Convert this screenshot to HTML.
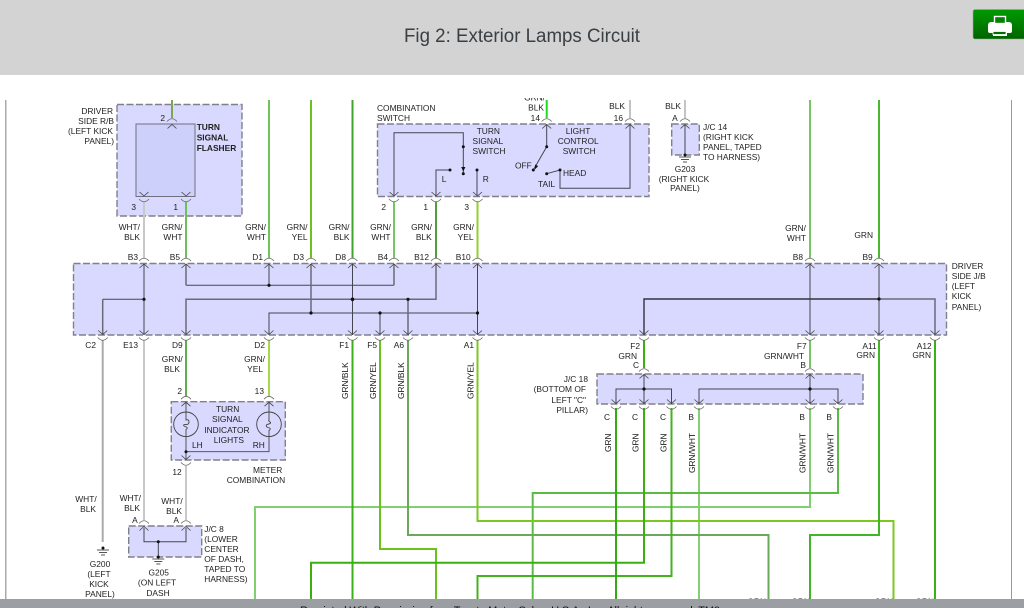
<!DOCTYPE html>
<html><head><meta charset="utf-8"><title>Fig 2: Exterior Lamps Circuit</title>
<style>
html,body{margin:0;padding:0;background:#fff;width:1024px;height:608px;overflow:hidden}
svg{display:block;font-family:"Liberation Sans",Arial,sans-serif}
.l text,text.l{font-size:8.4px;fill:#222}
.e text{text-anchor:end}
.c text{text-anchor:middle}
.box{fill:#d9d9ff;stroke:#808088;stroke-width:1.4;stroke-dasharray:7 2.5}
.w{fill:none;stroke-width:2}
.in{fill:none;stroke:#45454f;stroke-width:1}
.in2{fill:none;stroke:#6a6a78;stroke-width:1.5}
.cn{fill:none;stroke:#666;stroke-width:.8}
.d{fill:#111}
</style></head><body>
<svg width="1024" height="608" viewBox="0 0 1024 608" xmlns="http://www.w3.org/2000/svg">
<defs>
<g id="t"><path class="cn" d="M-5-2.5Q0-8 5-2.5"/><path class="cn" style="stroke:#444" d="M-4.5 4.5L0 .5L4.5 4.5"/></g>
<g id="b"><path class="cn" d="M-5 2.5Q0 8 5 2.5"/><path class="cn" style="stroke:#444" d="M-4.5-4.5L0-.5L4.5-4.5"/></g>
<g id="gnd"><path fill="none" stroke="#555" stroke-width=".9" d="M-6 2H6M-4 4.5H4M-2 7H2"/><circle class="d" r="1.5"/></g>
<linearGradient id="gb" x1="0" y1="0" x2="0" y2="1"><stop offset="0" stop-color="#009a00"/><stop offset="1" stop-color="#006400"/></linearGradient>
</defs>

<!-- boxes -->
<rect class="box" x="117" y="104.5" width="125" height="111.5"/>
<rect x="136" y="124" width="59" height="72.5" fill="#ccd0fb" stroke="#70707c" stroke-width="1"/>
<rect class="box" x="377.5" y="124" width="271.5" height="72.5"/>
<rect class="box" x="671.7" y="124" width="27.6" height="31"/>
<rect class="box" x="73.5" y="263.5" width="873" height="71.5"/>
<rect class="box" x="171.3" y="401.7" width="114" height="58.3"/>
<rect class="box" x="597" y="374" width="266" height="30"/>
<rect class="box" x="128.7" y="526" width="73" height="31"/>

<!-- upper wires -->
<g class="w">
<path stroke="#7aa850" d="M172 100V118"/>
<path stroke="#6fc45a" d="M269 100V258"/>
<path stroke="#6cc020" d="M311 100V258"/>
<path stroke="#3fa52a" d="M352.5 100V258"/>
<path stroke="#1fdc1f" d="M546.7 100V118"/>
<path stroke="#c4c4c4" d="M630 100V118M685 100V118"/>
<path stroke="#74c860" d="M810 100V258"/>
<path stroke="#49b82e" d="M879 100V258"/>
<path stroke="#c8c8c8" d="M144 202V258"/>
<path stroke="#6cc05a" d="M186 202V258"/>
<path stroke="#74c860" d="M394 202V258"/>
<path stroke="#4f9f3c" d="M436 202V258"/>
<path stroke="#92d02c" d="M477.5 202V258"/>
</g>

<!-- lower wires -->
<g class="w">
<path stroke="#aaa" d="M102.7 340V542"/>
<path stroke="#c8c8c8" d="M144 340V520M186 466V520"/>
<path stroke="#5cb04c" d="M186 340V396"/>
<path stroke="#a6d84a" d="M269 340V396"/>
<path stroke="#84cf74" d="M699 408V599"/>
<path stroke="#80cf70" d="M810 408V507H255V599"/>
<path stroke="#5bbb44" d="M838 408V493H532.7V599"/>
<path stroke="#6cc020" d="M380 340V549H436V599"/>
<path stroke="#6aa85c" d="M408 340V535H768.5V599"/>
<path stroke="#7cc820" d="M477.5 340V521H893.5V599"/>
<path stroke="#3cb01a" d="M352.5 340V599"/>
<path stroke="#3cae10" d="M644 340V368M644 408V562.7H311V599"/>
<path stroke="#74c860" d="M810 340V368"/>
<path stroke="#44b022" d="M671.5 408V576H477.5V599"/>
<path stroke="#30ac10" d="M616 408V599"/>
<path stroke="#42b428" d="M879 340V535H810V599"/>
<path stroke="#3cb01a" d="M935 340V599"/>
</g>

<!-- J/B inner -->
<g class="in">
<path d="M144 264V335M102.7 299.3H144"/>
<path d="M186 285.3H394M269 264V285.3"/>
<path d="M352.5 264V335"/>
<path d="M269 335V313H477.5M380 313V335"/>
<path d="M477.5 264V335"/>
<path d="M879 264V335"/>
<path d="M810 264V335"/>
<path d="M644 335V299H879" stroke-width="1.4" style="stroke:#33333c"/>
</g>
<g class="in2">
<path d="M102.7 299.3V335"/>
<path d="M186 264V285.3M394 264V285.3"/>
<path d="M186 335V299.3H436V264"/>
<path d="M311 264V313"/>
<path d="M408 299.3V335"/>
<path d="M879 299H935V335"/>
</g>
<g class="d">
<circle cx="144" cy="299.3" r="1.6"/><circle cx="269" cy="285.3" r="1.6"/><circle cx="352.5" cy="299.3" r="1.8"/><circle cx="408" cy="299.3" r="1.6"/>
<circle cx="311" cy="313" r="1.6"/><circle cx="380" cy="313" r="1.6"/><circle cx="477.5" cy="313" r="1.6"/><circle cx="879" cy="299" r="1.6"/>
</g>

<!-- combination switch inner -->
<g class="in">
<path d="M394 196V132.7H463.3V173.7"/>
<path d="M450 170H436V196"/>
<path d="M477 170V196"/>
<path d="M546.7 124V146.7L533.3 170"/>
<path d="M546.7 173.7L560 170V188.3H630V124"/>
<path d="M685 124V155"/>
<path d="M144 528V541.7H186V528M158.3 541.7V557"/>
<path d="M616 404V389H671.5V404M644 374V404"/>
<path d="M699 404V389H838V404M810 374V404"/>
</g>
<path class="d" d="M461.2 167h4.2l-2.1 4.5zM535 164.5l3.2 1.6-3.4 3.4z"/>
<g class="d">
<circle cx="463.3" cy="146.7" r="1.5"/><circle cx="463.3" cy="173.7" r="1.5"/><circle cx="450" cy="170" r="1.5"/><circle cx="477" cy="170" r="1.5"/>
<circle cx="546.7" cy="146.7" r="1.5"/><circle cx="533.3" cy="170" r="1.5"/><circle cx="546.7" cy="173.7" r="1.5"/><circle cx="560" cy="170" r="1.5"/>
<circle cx="644" cy="389" r="1.6"/><circle cx="810" cy="389" r="1.6"/><circle cx="158.3" cy="541.7" r="1.5"/>
</g>

<!-- lamps -->
<g fill="none" stroke="#444" stroke-width=".9">
<circle cx="186" cy="424.3" r="12.3"/><circle cx="269" cy="424.3" r="12.3"/>
<path d="M186 402V420q3-1 3 2t-4 2.5q-3 .5 0 2 4 1 1 3V451.7H269V430.5q3-2-1-3-3-1-1-3 5-1 3-2.5t-1-2V402"/>
<path d="M186 451.7V460"/>
</g>
<circle class="d" cx="186" cy="451.7" r="1.5"/>

<!-- connectors -->
<use href="#t" x="172" y="124"/>
<use href="#b" x="144" y="196.5"/><use href="#b" x="186" y="196.5"/>
<use href="#t" x="144" y="263.5"/><use href="#t" x="186" y="263.5"/><use href="#t" x="269" y="263.5"/><use href="#t" x="311" y="263.5"/><use href="#t" x="352.5" y="263.5"/><use href="#t" x="394" y="263.5"/><use href="#t" x="436" y="263.5"/><use href="#t" x="477.5" y="263.5"/><use href="#t" x="810" y="263.5"/><use href="#t" x="879" y="263.5"/>
<use href="#t" x="546.7" y="124"/><use href="#t" x="630" y="124"/><use href="#t" x="685" y="124"/>
<use href="#b" x="394" y="196.5"/><use href="#b" x="436" y="196.5"/><use href="#b" x="477.5" y="196.5"/>
<use href="#b" x="102.7" y="335"/><use href="#b" x="144" y="335"/><use href="#b" x="186" y="335"/><use href="#b" x="269" y="335"/><use href="#b" x="352.5" y="335"/><use href="#b" x="380" y="335"/><use href="#b" x="408" y="335"/><use href="#b" x="477.5" y="335"/><use href="#b" x="644" y="335"/><use href="#b" x="810" y="335"/><use href="#b" x="879" y="335"/><use href="#b" x="935" y="335"/>
<use href="#t" x="186" y="401.7"/><use href="#t" x="269" y="401.7"/><use href="#b" x="186" y="460"/>
<use href="#t" x="644" y="374"/><use href="#t" x="810" y="374"/>
<use href="#b" x="616" y="404"/><use href="#b" x="644" y="404"/><use href="#b" x="671.5" y="404"/><use href="#b" x="699" y="404"/><use href="#b" x="810" y="404"/><use href="#b" x="838" y="404"/>
<use href="#t" x="144" y="526"/><use href="#t" x="186" y="526"/>
<use href="#gnd" x="685" y="155"/><use href="#gnd" x="158.3" y="557"/>
<use href="#gnd" x="103" y="548"/>

<!-- labels right aligned -->
<g class="l e">
<text x="113" y="114">DRIVER</text><text x="114" y="124">SIDE R/B</text><text x="113" y="134">(LEFT KICK</text><text x="114" y="144">PANEL)</text>
<text x="165" y="121">2</text><text x="136" y="210">3</text><text x="178" y="210">1</text>
<text x="140" y="230">WHT/</text><text x="140" y="240">BLK</text>
<text x="182.5" y="230">GRN/</text><text x="182.5" y="240">WHT</text>
<text x="266" y="230">GRN/</text><text x="266" y="240">WHT</text>
<text x="307.5" y="230">GRN/</text><text x="307.5" y="240">YEL</text>
<text x="349.5" y="230">GRN/</text><text x="349.5" y="240">BLK</text>
<text x="391" y="230">GRN/</text><text x="390.5" y="240">WHT</text>
<text x="432" y="230">GRN/</text><text x="431.7" y="240">BLK</text>
<text x="474" y="230">GRN/</text><text x="473.5" y="240">YEL</text>
<text x="138" y="260">B3</text><text x="180" y="260">B5</text><text x="263" y="260">D1</text><text x="304" y="260">D3</text><text x="346" y="260">D8</text><text x="388" y="260">B4</text><text x="429" y="260">B12</text><text x="470.7" y="260">B10</text>
<text x="544" y="110.7">BLK</text><text x="540" y="121">14</text><text x="625" y="109">BLK</text><text x="623" y="121">16</text><text x="681" y="109">BLK</text><text x="677.7" y="121">A</text>
<text x="386" y="210">2</text><text x="428" y="210">1</text><text x="469" y="210">3</text>
<text x="806" y="231">GRN/</text><text x="806" y="241">WHT</text><text x="873" y="238">GRN</text><text x="803" y="260">B8</text><text x="872.7" y="260">B9</text>
<text x="96" y="348">C2</text><text x="138" y="348">E13</text><text x="182.7" y="348">D9</text><text x="265" y="348">D2</text><text x="349" y="348">F1</text><text x="377" y="348">F5</text><text x="404" y="348">A6</text><text x="474" y="348">A1</text>
<text x="182.7" y="362">GRN/</text><text x="180" y="372">BLK</text><text x="265" y="362">GRN/</text><text x="263" y="372">YEL</text>
<text x="182" y="394">2</text><text x="264" y="394">13</text>
<text x="640" y="349">F2</text><text x="637" y="359">GRN</text><text x="639" y="368">C</text>
<text x="806.7" y="349">F7</text><text x="804" y="359">GRN/WHT</text><text x="806" y="368">B</text>
<text x="876.7" y="349">A11</text><text x="875" y="358">GRN</text><text x="931.7" y="349">A12</text><text x="931" y="358">GRN</text>
<text x="588" y="382">J/C 18</text><text x="586" y="392">(BOTTOM OF</text><text x="586" y="403">LEFT "C"</text><text x="588" y="413">PILLAR)</text>
<text x="610" y="420">C</text><text x="638" y="420">C</text><text x="666" y="420">C</text><text x="694" y="420">B</text><text x="805" y="420">B</text><text x="832" y="420">B</text>
<text x="181.7" y="475">12</text>
<text x="96.7" y="502">WHT/</text><text x="96" y="512">BLK</text>
<text x="141" y="501">WHT/</text><text x="140" y="511">BLK</text>
<text x="182.7" y="504">WHT/</text><text x="182" y="514">BLK</text>
<text x="137.7" y="523">A</text><text x="179" y="523">A</text>
<text x="766" y="604.5">GRN</text><text x="810" y="604.5">GRN</text><text x="893" y="604.5">GRN</text><text x="934" y="604.5">GRN</text>
</g>

<!-- labels left aligned -->
<g class="l">
<text x="196.7" y="130" font-weight="bold">TURN</text><text x="196.7" y="140.5" font-weight="bold">SIGNAL</text><text x="196.7" y="151" font-weight="bold">FLASHER</text>
<text x="377" y="111">COMBINATION</text><text x="377" y="121">SWITCH</text>
<text x="476.7" y="134">TURN</text><text x="472.5" y="144">SIGNAL</text><text x="472.5" y="154">SWITCH</text>
<text x="565.7" y="134">LIGHT</text><text x="557.7" y="144">CONTROL</text><text x="562.7" y="154">SWITCH</text>
<text x="515" y="168.7">OFF</text><text x="563" y="176">HEAD</text><text x="538" y="187">TAIL</text><text x="441.7" y="182">L</text><text x="482.7" y="182">R</text>
<text x="703" y="130">J/C 14</text><text x="703" y="140">(RIGHT KICK</text><text x="703" y="150">PANEL, TAPED</text><text x="703" y="160">TO HARNESS)</text>
<text x="951.7" y="269">DRIVER</text><text x="951.7" y="279">SIDE J/B</text><text x="951.7" y="289">(LEFT</text><text x="951.7" y="299">KICK</text><text x="951.7" y="310">PANEL)</text>
<text x="216" y="412">TURN</text><text x="212" y="422">SIGNAL</text><text x="204.3" y="433">INDICATOR</text><text x="213.7" y="443">LIGHTS</text>
<text x="192" y="448">LH</text><text x="252.7" y="448">RH</text>
<text x="253" y="473">METER</text><text x="226.7" y="483">COMBINATION</text>
<text x="204.3" y="532">J/C 8</text><text x="204.3" y="542">(LOWER</text><text x="204.3" y="552">CENTER</text><text x="204.3" y="562">OF DASH,</text><text x="204.3" y="572">TAPED TO</text><text x="204.3" y="582">HARNESS)</text>
</g>

<!-- labels centred -->
<g class="l c">
<text x="685" y="172">G203</text><text x="684" y="182">(RIGHT KICK</text><text x="685" y="191">PANEL)</text>
<text x="100" y="567">G200</text><text x="99" y="577">(LEFT</text><text x="99" y="587">KICK</text><text x="100" y="597">PANEL)</text>
<text x="158.7" y="575.7">G205</text><text x="157" y="585.7">(ON LEFT</text><text x="158" y="596">DASH</text>
</g>

<!-- vertical labels -->
<g class="l">
<text transform="translate(348 399) rotate(-90)">GRN/BLK</text>
<text transform="translate(376 399) rotate(-90)">GRN/YEL</text>
<text transform="translate(404 399) rotate(-90)">GRN/BLK</text>
<text transform="translate(473.5 399) rotate(-90)">GRN/YEL</text>
<text transform="translate(611 452) rotate(-90)">GRN</text>
<text transform="translate(638.5 452) rotate(-90)">GRN</text>
<text transform="translate(666.5 452) rotate(-90)">GRN</text>
<text transform="translate(695 473) rotate(-90)">GRN/WHT</text>
<text transform="translate(805.5 473) rotate(-90)">GRN/WHT</text>
<text transform="translate(833.5 473) rotate(-90)">GRN/WHT</text>
</g>

<!-- clipped fragment above 14 -->
<text class="l" x="545" y="100.5" text-anchor="end">GRN/</text>

<!-- header and margins -->
<rect x="0" y="75" width="1024" height="23" fill="#fff"/>
<rect width="1024" height="75" fill="#d3d3d3"/>
<text x="404" y="42" font-size="19" fill="#3a3f44" textLength="236" lengthAdjust="spacingAndGlyphs">Fig 2: Exterior Lamps Circuit</text>
<rect x="973" y="9.5" width="60" height="29.5" rx="2" fill="url(#gb)" stroke="#9aa89a" stroke-width=".6"/>
<path fill="#fff" d="M991 22h18a3 3 0 0 1 3 3v6a2 2 0 0 1-2 2h-3v3h-14v-3h-3a2 2 0 0 1-2-2v-6a3 3 0 0 1 3-3z"/>
<rect x="994.5" y="16.5" width="11" height="7" fill="#008000" stroke="#fff" stroke-width="1.4"/>
<rect x="993" y="31.5" width="13" height="3" fill="#006e00" stroke="#fff" stroke-width=".8"/>
<rect x="5" y="100" width="1.5" height="500" fill="#aaa"/>
<rect x="1011" y="100" width="1" height="500" fill="#999"/>

<!-- bottom bar -->
<rect x="0" y="599" width="1024" height="9" fill="#9b9fa3"/>
<text x="300" y="614" font-size="11" fill="#111" textLength="420" lengthAdjust="spacing">Reprinted With Permission from Toyota Motor Sales, U.S.A., Inc. All rights reserved. TM0</text>
</svg>
</body></html>
